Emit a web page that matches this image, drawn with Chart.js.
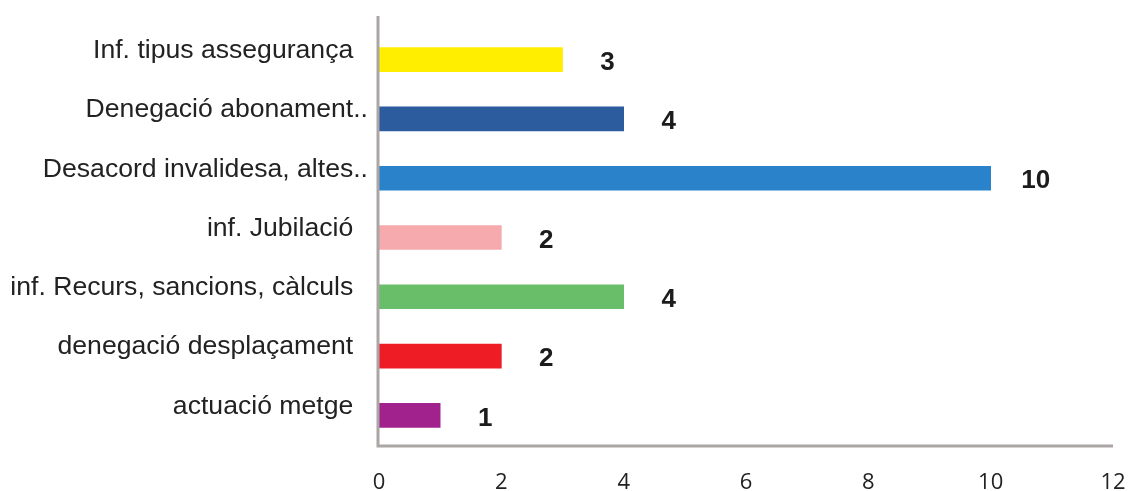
<!DOCTYPE html>
<html>
<head>
<meta charset="utf-8">
<script src="https://cdn.jsdelivr.net/npm/chart.js@4"></script>
<style>
    html, body { margin: 0; padding: 0; background: #fff; }
    #wrap { width: 1129px; height: 491px; position: relative; }
</style>
</head>
<body>
<div id="wrap"><canvas id="myChart"></canvas></div>
<script>
let categories = ['Inf. tipus assegurança', 'Denegació abonament..', 'Desacord invalidesa, altes..', 'inf. Jubilació', 'inf. Recurs, sancions, càlculs', 'denegació desplaçament', 'actuació metge'];
let cases = [3, 4, 10, 2, 4, 2, 1];
let bar_colors = ['#FFEE00', '#2C5B9E', '#2A82CA', '#F7AAAD', '#69BF69', '#EE1D25', '#A1228D'];
let x_min = 0;
let x_max = 12;
let x_step = 2;

// value labels to the right of each bar
const valueLabels = {
    id: 'valueLabels',
    afterDatasetsDraw(chart) {
        let ctx = chart.ctx;
        let meta = chart.getDatasetMeta(0);
        ctx.save();
        ctx.font = 'bold 26px "Liberation Sans", Arial, sans-serif';
        ctx.fillStyle = '#1c1c1c';
        ctx.textAlign = 'center';
        ctx.textBaseline = 'middle';
        meta.data.forEach((bar, i) => {
            ctx.fillText(cases[i], bar.x + 45, bar.y + 3);
        });
        ctx.restore();
    }
};

// grey axis lines, the vertical one runs a bit above the plot
const axisLines = {
    id: 'axisLines',
    afterDatasetsDraw(chart) {
        let ctx = chart.ctx;
        let a = chart.chartArea;
        ctx.save();
        ctx.strokeStyle = '#ABA5A5';
        ctx.lineWidth = 3;
        ctx.beginPath();
        ctx.moveTo(a.left - 1, 16);
        ctx.lineTo(a.left - 1, a.bottom + 1);
        ctx.lineTo(a.right, a.bottom + 1);
        ctx.stroke();
        ctx.restore();
    }
};

function myChart() {
    let ctx = document.getElementById('myChart').getContext('2d');
    new Chart(ctx, {
        type: 'bar',
        data: {
            labels: categories,
            datasets: [{
                data: cases,
                backgroundColor: bar_colors,
                borderWidth: 0,
                barThickness: 24
            }]
        },
        options: {
            indexAxis: 'y',
            responsive: true,
            maintainAspectRatio: false,
            animation: false,
            layout: {
                padding: { top: 30, right: 16, left: 0, bottom: 0 }
            },
            plugins: {
                legend: { display: false },
                tooltip: { enabled: false }
            },
            scales: {
                x: {
                    min: x_min,
                    max: x_max,
                    grid: { display: false, drawTicks: false },
                    border: { display: false },
                    ticks: {
                        stepSize: x_step,
                        padding: 25,
                        color: '#222',
                        font: { family: '"Open Sans", sans-serif', size: 22 }
                    },
                    afterFit(scale) {
                        scale.height = 46;
                        scale.paddingLeft = 0;
                        scale.paddingRight = 0;
                    }
                },
                y: {
                    grid: { display: false, drawTicks: false },
                    border: { display: false },
                    ticks: {
                        padding: 11,
                        labelOffset: -9,
                        color: '#222',
                        font: { family: '"Liberation Sans", Arial, sans-serif', size: 26.6 },
                        callback: function (value) {
                            let t = this.getLabelForValue(value);
                            return t.endsWith('..') ? t : t + '  ';
                        }
                    },
                    afterFit(scale) { scale.width = 379; }
                }
            }
        },
        plugins: [valueLabels, axisLines]
    });
}
myChart()
</script>
</body>
</html>
